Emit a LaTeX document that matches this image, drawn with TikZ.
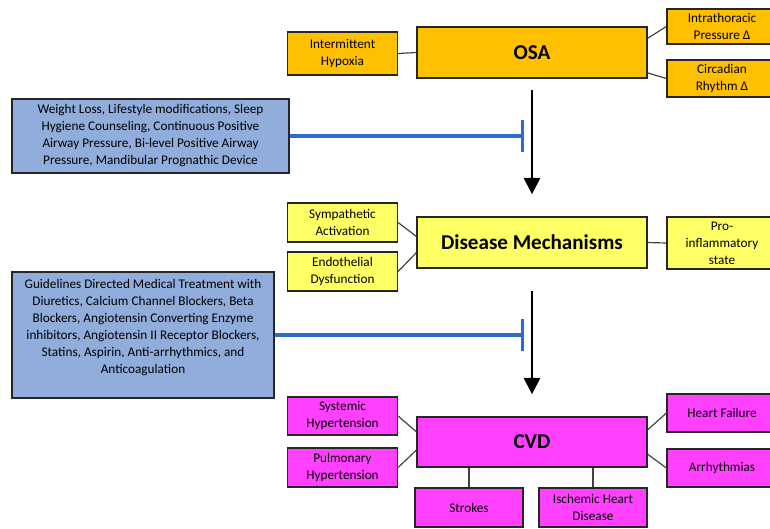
\documentclass[tikz,border=0pt]{standalone}
\usepackage{fontspec}
\setmainfont{Carlito}
\usepackage{xcolor}
\usepackage{tikz}
\usetikzlibrary{arrows.meta,positioning}

\definecolor{osaorange}{HTML}{FFC000}
\definecolor{mechyellow}{HTML}{FFFF66}
\definecolor{cvdpink}{HTML}{FF40FF}
\definecolor{treatblue}{HTML}{90ADDB}
\definecolor{inhblue}{HTML}{2E6BD1}

\begin{document}
\begin{tikzpicture}[x=0.03cm, y=-0.03cm]
    % Define styles
    \tikzstyle{box} = [rectangle, draw=black!85, line width=1pt, align=center, inner sep=2pt, font=\fontsize{11.3}{14.5}\selectfont]
    \tikzstyle{main} = [box, minimum width=6.9cm, minimum height=1.53cm, font=\fontsize{18}{20}\selectfont\bfseries]
    \tikzstyle{side} = [box, minimum width=3.3cm, minimum height=1.17cm]
    \tikzstyle{treat} = [box, fill=treatblue]
    \tikzstyle{link} = [draw=black!75, line width=1pt]
    \tikzstyle{line} = [draw, line width=2pt, -{Triangle[width=14pt,length=14pt]}]
    \tikzstyle{inhibit} = [draw=inhblue, line width=2.6pt, -{Bar[width=27pt]}]

    \useasboundingbox (0,0) rectangle (770,529);
    \clip (0,0) rectangle (770,529);

    % Place nodes
    \node [main, fill=osaorange] (osa) at (532,52.5) {OSA};
    \node [side, fill=osaorange, minimum height=1.29cm] (hypoxia) at (342.5,53.5) {Intermittent\\Hypoxia};
    \node [side, fill=osaorange, minimum height=1.05cm] (thoracic) at (722,26.5) {Intrathoracic\\Pressure Δ};
    \node [side, fill=osaorange, minimum height=1.11cm] (circadian) at (722,78.5) {Circadian\\Rhythm Δ};

    \node [treat, minimum width=8.31cm, minimum height=2.22cm] (lifestyle) at (150.5,136) {Weight Loss, Lifestyle modifications, Sleep\\Hygiene Counseling, Continuous Positive\\Airway Pressure, Bi-level Positive Airway\\Pressure, Mandibular Prognathic Device};

    \node [main, fill=mechyellow] (disease) at (532,242.5) {Disease Mechanisms};
    \node [side, fill=mechyellow] (sympathetic) at (342.5,222.5) {Sympathetic\\Activation};
    \node [side, fill=mechyellow] (endothelial) at (342.5,271.5) {Endothelial\\Dysfunction};
    \node [side, fill=mechyellow, minimum height=1.56cm] (inflammatory) at (722,243) {Pro-\\inflammatory\\state};

    \node [treat, minimum width=7.86cm, minimum height=3.78cm] (gdmt) at (143,335) {Guidelines Directed Medical Treatment with\\Diuretics, Calcium Channel Blockers, Beta\\Blockers, Angiotensin Converting Enzyme\\inhibitors, Angiotensin II Receptor Blockers,\\Statins, Aspirin, Anti-arrhythmics, and\\Anticoagulation\rule[-15pt]{0pt}{0pt}};

    \node [main, fill=cvdpink, minimum height=1.5cm] (cvd) at (532,442) {CVD};
    \node [side, fill=cvdpink, minimum height=1.14cm] (systemic) at (342.5,416) {Systemic\\Hypertension};
    \node [side, fill=cvdpink] (pulmonary) at (342.5,467.5) {Pulmonary\\Hypertension};
    \node [side, fill=cvdpink, minimum height=1.14cm] (heartfail) at (722,413) {Heart Failure};
    \node [side, fill=cvdpink, minimum height=1.14cm] (arrhythmia) at (722,468) {Arrhythmias};
    \node [side, fill=cvdpink, minimum width=3.24cm] (strokes) at (469,507.5) {Strokes};
    \node [side, fill=cvdpink, minimum width=3.24cm] (ischemic) at (593,507.5) {Ischemic Heart\\Disease};

    \coordinate (stop1) at (524,136);
    \coordinate (stop2) at (524,335);

    % Draw edges
    \path [link] (hypoxia.east) -- (osa.west);
    \path [link] (osa.7.7) -- (thoracic.west);
    \path [link] (osa.-10) -- (circadian.west);
    \path [link] (sympathetic.east) -- (disease.177.8);
    \path [link] (endothelial.east) -- (disease.185);
    \path [link] (disease.east) -- (inflammatory.west);
    \path [link] (systemic.east) -- (cvd.175);
    \path [link] (pulmonary.east) -- (cvd.184);
    \path [link] (cvd.6) -- (heartfail.west);
    \path [link] (cvd.-6.5) -- (arrhythmia.west);
    \path [link] (strokes) -- (strokes |- cvd.south);
    \path [link] (ischemic) -- (ischemic |- cvd.south);

    \path [line, shorten <=10pt, shorten >=19pt] (osa) -- (disease);
    \path [line, shorten <=19pt, shorten >=19pt] (disease) -- (cvd);
    \path [inhibit] (lifestyle.east) -- (stop1);
    \path [inhibit] (gdmt.east) -- (stop2);
\end{tikzpicture}
\end{document}
